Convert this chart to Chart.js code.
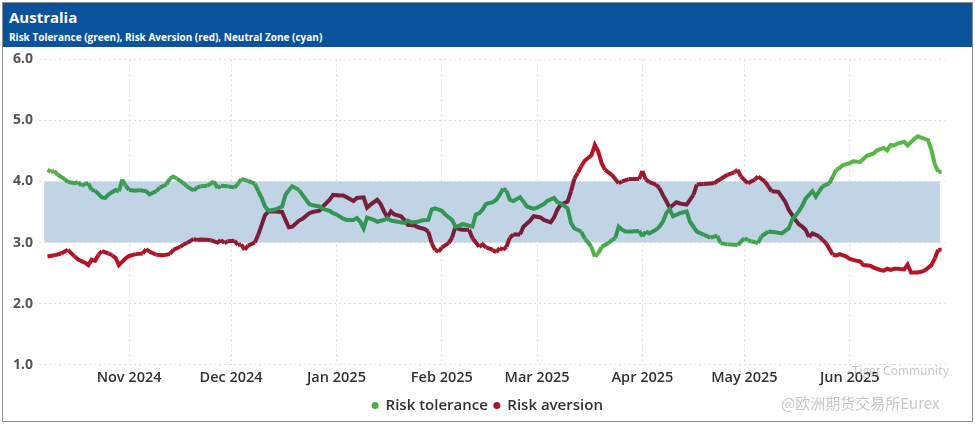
<!DOCTYPE html>
<html>
<head>
<meta charset="utf-8">
<script src="https://cdn.jsdelivr.net/npm/chart.js@4.4.0/dist/chart.umd.min.js"></script>
<style>
  body { margin: 0; background: #fff; font-family: "Open Sans", sans-serif; }
  #frame { position: absolute; left: 2px; top: 2px; width: 969px; height: 418px; border: 1px solid #8c8c8c; overflow: hidden; }
  #header { height: 44px; background: #0b529d; color: #fff; padding-left: 6px; }
  #title { font-size: 15px; font-weight: 700; line-height: 26px; padding-top: 1px; }
  #subtitle { font-size: 10px; font-weight: 700; line-height: 14px; }
  #wrap { position: relative; width: 969px; height: 376px; margin-top: -2px; }
  .wm { position: absolute; color: #c8c8c8; font-family: "Noto Sans CJK SC", sans-serif; }
</style>
</head>
<body>
<div id="frame">
  <div id="header">
    <div id="title">Australia</div>
    <div id="subtitle">Risk Tolerance (green), Risk Aversion (red), Neutral Zone (cyan)</div>
  </div>
  <div id="wrap">
    <canvas id="myChart"></canvas>
    <div class="wm" style="left:849px; top:316px; font-size:12px;">Tiger Community</div>
    <div class="wm" style="left:778px; top:347px; font-size:15px;">@欧洲期货交易所Eurex</div>
  </div>
</div>
<script>
// x values are days counted from 1 Oct 2024
const monthStarts = [31, 61, 92, 123, 151, 182, 212, 243];
const monthLabels = ['Nov 2024', 'Dec 2024', 'Jan 2025', 'Feb 2025', 'Mar 2025', 'Apr 2025', 'May 2025', 'Jun 2025'];

const neutralZone = [3, 4];
const zoneDays = [6, 269.5];

const tolDays = [7, 8, 9, 10, 12, 13, 15, 16, 17, 18, 19, 20, 21, 23, 24, 25, 27, 28, 29, 30, 31, 33, 34, 36, 37, 39, 40, 42, 43, 44, 45, 47, 48, 50, 51, 52,
  54, 56, 57, 58, 60, 62, 63, 64, 66, 68, 69, 70, 71, 72, 74, 76, 77, 78, 79, 81, 82, 84, 85, 87, 88, 90, 91, 92, 94, 95, 97,
  98, 99, 100, 101, 103, 104, 106, 107, 108, 110, 112, 113, 114, 116, 117, 119, 120, 121, 123, 124, 126, 127, 128, 129, 130, 132,
  133, 134, 135, 136, 138, 139, 140, 141, 142, 143, 144, 146, 147, 148, 150, 151, 153, 154, 156, 157, 158, 160, 161, 162, 164,
  165, 167, 168, 169, 170, 172, 173, 174, 175, 176, 177, 179, 181, 182, 183, 184, 186, 187, 188, 189, 190, 191, 193, 195, 196,
  198, 200, 202, 204, 205, 207, 210, 212, 213, 214, 216, 217, 219, 221, 223, 225, 226, 228, 229, 230, 232, 233, 234, 235, 237,
  238, 239, 240, 241, 243, 244, 246, 247, 248, 250, 251, 253, 254, 255, 256, 257, 259, 260, 262, 263, 264, 266, 267, 268, 269, 270];
const tolValues = [4.19, 4.16, 4.17, 4.11, 4.04, 3.99, 3.97, 3.99, 3.93, 3.96, 3.97, 3.86, 3.85, 3.74, 3.73, 3.79, 3.86, 3.84, 4.03, 3.93, 3.86, 3.85, 3.86, 3.84, 3.79, 3.84, 3.90, 3.95, 4.05, 4.08, 4.05, 3.97, 3.92, 3.85, 3.90, 3.92,
  3.93, 4.00, 3.89, 3.93, 3.92, 3.90, 3.96, 4.04, 4.01, 3.96, 3.84, 3.73, 3.59, 3.52, 3.54, 3.59, 3.78, 3.86, 3.92, 3.86, 3.78, 3.63, 3.61, 3.59, 3.55, 3.52, 3.48, 3.46, 3.39, 3.37, 3.37,
  3.40, 3.34, 3.23, 3.41, 3.37, 3.34, 3.37, 3.40, 3.36, 3.34, 3.32, 3.36, 3.33, 3.34, 3.36, 3.37, 3.54, 3.56, 3.52, 3.46, 3.37, 3.26, 3.27, 3.30, 3.29, 3.26,
  3.46, 3.48, 3.54, 3.63, 3.66, 3.70, 3.78, 3.88, 3.85, 3.70, 3.68, 3.74, 3.67, 3.59, 3.55, 3.57, 3.63, 3.68, 3.73, 3.66, 3.64, 3.56, 3.32, 3.23, 3.18,
  3.07, 2.93, 2.77, 2.82, 2.93, 2.99, 3.04, 3.07, 3.26, 3.21, 3.18, 3.18, 3.19, 3.10, 3.18, 3.15, 3.21, 3.26, 3.34, 3.48, 3.55, 3.43, 3.48, 3.51, 3.34,
  3.18, 3.13, 3.08, 3.11, 2.99, 2.97, 2.96, 3.07, 3.04, 3.02, 2.99, 3.10, 3.18, 3.17, 3.15, 3.23, 3.37, 3.51, 3.60, 3.72, 3.84, 3.75, 3.84, 3.92, 3.97,
  4.08, 4.19, 4.22, 4.27, 4.30, 4.33, 4.32, 4.37, 4.42, 4.46, 4.51, 4.55, 4.51, 4.60, 4.59, 4.62, 4.65, 4.59, 4.70, 4.74, 4.72, 4.68, 4.52, 4.28, 4.16, 4.16];

const avDays = [7, 9, 11, 13, 15, 16, 18, 19, 20, 21, 22, 23, 25, 26, 27, 28, 30, 31, 33, 35, 36, 37, 39, 41, 43, 44, 46, 47, 48, 50, 51, 52,
  55, 57, 58, 59, 60, 62, 63, 64, 65, 66, 68, 69, 70, 71, 72, 74, 76, 77, 78, 79, 81, 82, 84, 85, 87, 88, 90, 91, 93, 94, 95, 97,
  98, 100, 101, 102, 104, 105, 106, 107, 108, 109, 111, 112, 113, 115, 116, 118, 119, 120, 121, 122, 123, 125, 126, 127, 128, 129, 131,
  132, 134, 135, 136, 138, 139, 140, 141, 142, 143, 144, 146, 147, 149, 150, 152, 153, 155, 156, 157, 158, 160, 161, 162, 163, 164,
  165, 167, 168, 169, 170, 171, 173, 175, 176, 178, 180, 181, 182, 183, 184, 186, 187, 188, 189, 190, 192, 193, 195, 197, 198, 200,
  203, 205, 207, 209, 210, 211, 213, 215, 216, 218, 219, 220, 222, 224, 225, 227, 228, 229, 230, 231, 232, 234, 235, 236, 238, 239,
  240, 242, 243, 245, 246, 247, 249, 250, 252, 253, 254, 255, 256, 257, 259, 260, 261, 263, 264, 265, 267, 268, 269, 270];
const avValues = [2.77, 2.79, 2.82, 2.88, 2.77, 2.72, 2.67, 2.63, 2.72, 2.70, 2.80, 2.86, 2.82, 2.79, 2.75, 2.63, 2.74, 2.78, 2.81, 2.82, 2.89, 2.85, 2.80, 2.79, 2.81, 2.88, 2.93, 2.97, 2.99, 3.06, 3.04, 3.05,
  3.04, 3.00, 3.04, 2.99, 3.02, 3.03, 2.96, 2.97, 2.88, 2.95, 3.00, 3.13, 3.29, 3.45, 3.51, 3.51, 3.50, 3.37, 3.25, 3.26, 3.36, 3.39, 3.48, 3.50, 3.52, 3.59, 3.70, 3.78, 3.77, 3.77, 3.74, 3.68,
  3.73, 3.74, 3.57, 3.62, 3.70, 3.63, 3.51, 3.41, 3.51, 3.46, 3.43, 3.37, 3.29, 3.28, 3.25, 3.22, 3.18, 2.99, 2.88, 2.85, 2.92, 2.99, 3.08, 3.26, 3.22, 3.21, 3.21,
  3.07, 2.93, 2.97, 2.92, 2.88, 2.84, 2.91, 2.88, 2.93, 3.08, 3.13, 3.13, 3.26, 3.36, 3.43, 3.41, 3.37, 3.33, 3.41, 3.54, 3.62, 3.67, 3.84, 4.05, 4.14, 4.25,
  4.34, 4.43, 4.60, 4.49, 4.30, 4.19, 4.11, 3.97, 4.00, 4.04, 4.04, 4.04, 4.17, 4.03, 3.99, 3.95, 3.89, 3.78, 3.68, 3.57, 3.66, 3.64, 3.62, 3.78, 3.95, 3.96,
  3.97, 4.04, 4.11, 4.15, 4.19, 4.08, 3.97, 4.03, 4.08, 4.00, 3.92, 3.84, 3.83, 3.67, 3.54, 3.37, 3.30, 3.26, 3.21, 3.09, 3.15, 3.10, 3.04, 2.99, 2.80, 2.79,
  2.81, 2.77, 2.73, 2.70, 2.69, 2.63, 2.62, 2.59, 2.55, 2.54, 2.57, 2.55, 2.57, 2.57, 2.56, 2.64, 2.51, 2.51, 2.52, 2.54, 2.63, 2.74, 2.88, 2.88];

function toPoints(xs, ys) {
  return xs.map((x, i) => ({ x: x, y: ys[i] }));
}

// line is darker inside the neutral zone, brighter outside it
function mix(a, b, t) {
  return 'rgb(' + a.map((v, i) => Math.round(v + (b[i] - v) * t)).join(',') + ')';
}
function zoneColor(dark, bright) {
  return function(ctx) {
    const mid = (ctx.p0.parsed.y + ctx.p1.parsed.y) / 2;
    let t = 0;
    if (mid > 3.85) t = (mid - 3.85) / 0.35;
    if (mid < 3.15) t = (3.15 - mid) / 0.35;
    return mix(dark, bright, Math.min(1, t));
  };
}

const greenBright = [88, 184, 68], greenDark = [52, 150, 84];
const redBright = [182, 20, 36], redDark = [118, 30, 58];

const ctx = document.getElementById('myChart').getContext('2d');
const myChart = new Chart(ctx, {
  type: 'line',
  data: {
    datasets: [{
      label: 'Risk tolerance',
      data: toPoints(tolDays, tolValues),
      borderColor: mix(greenDark, greenBright, 0.7),
      backgroundColor: mix(greenDark, greenBright, 0.7),
      segment: { borderColor: zoneColor(greenDark, greenBright) },
      borderWidth: 4,
      pointRadius: 0,
      tension: 0,
      order: 0
    }, {
      label: 'Risk aversion',
      data: toPoints(avDays, avValues),
      borderColor: mix(redDark, redBright, 0.7),
      backgroundColor: mix(redDark, redBright, 0.7),
      segment: { borderColor: zoneColor(redDark, redBright) },
      borderWidth: 4,
      pointRadius: 0,
      tension: 0,
      order: 0
    }, {
      label: 'Neutral zone',
      data: toPoints(zoneDays, [neutralZone[1], neutralZone[1]]),
      borderWidth: 0,
      pointRadius: 0,
      backgroundColor: 'rgb(192, 212, 230)',
      fill: { value: neutralZone[0] },
      order: 1
    }]
  },
  options: {
    responsive: true,
    maintainAspectRatio: false,
    animation: false,
    layout: { padding: { left: 4, right: 4, top: 2, bottom: -2 } },
    plugins: {
      tooltip: { enabled: false },
      legend: {
        position: 'bottom',
        labels: {
          usePointStyle: true,
          boxHeight: 5,
          boxWidth: 6,
          padding: 6,
          color: '#333',
          font: { family: 'Open Sans', size: 15, weight: '600' },
          generateLabels: chart => Chart.defaults.plugins.legend.labels.generateLabels(chart)
            .filter(item => item.datasetIndex < 2)
            .map(item => Object.assign(item, { lineWidth: 0 }))
        }
      }
    },
    scales: {
      x: {
        type: 'linear',
        min: 4.5,
        max: 271,
        afterBuildTicks: axis => { axis.ticks = monthStarts.map(v => ({ value: v })); },
        ticks: {
          autoSkip: false,
          maxRotation: 0,
          padding: 5,
          color: '#333',
          font: { family: 'Open Sans', size: 14.5, weight: '600' },
          callback: value => monthLabels[monthStarts.indexOf(value)]
        },
        grid: { color: '#dcdcdc', drawTicks: false, tickLength: 0 },
        border: { display: false, dash: [2, 3] }
      },
      y: {
        min: 1,
        max: 6,
        ticks: {
          stepSize: 1,
          color: '#555',
          padding: 6,
          font: { family: 'Open Sans', size: 14, weight: '700' },
          callback: value => value.toFixed(1)
        },
        grid: { color: '#dcdcdc', drawTicks: false },
        border: { display: false, dash: [2, 3] }
      },
      // empty right-hand axis: keeps the right margin while the legend stays centred on the frame
      spacer: {
        position: 'right',
        grid: { display: false },
        ticks: { display: false },
        border: { display: false },
        afterFit: scale => { scale.width = 23; }
      }
    }
  }
});
</script>
</body>
</html>
